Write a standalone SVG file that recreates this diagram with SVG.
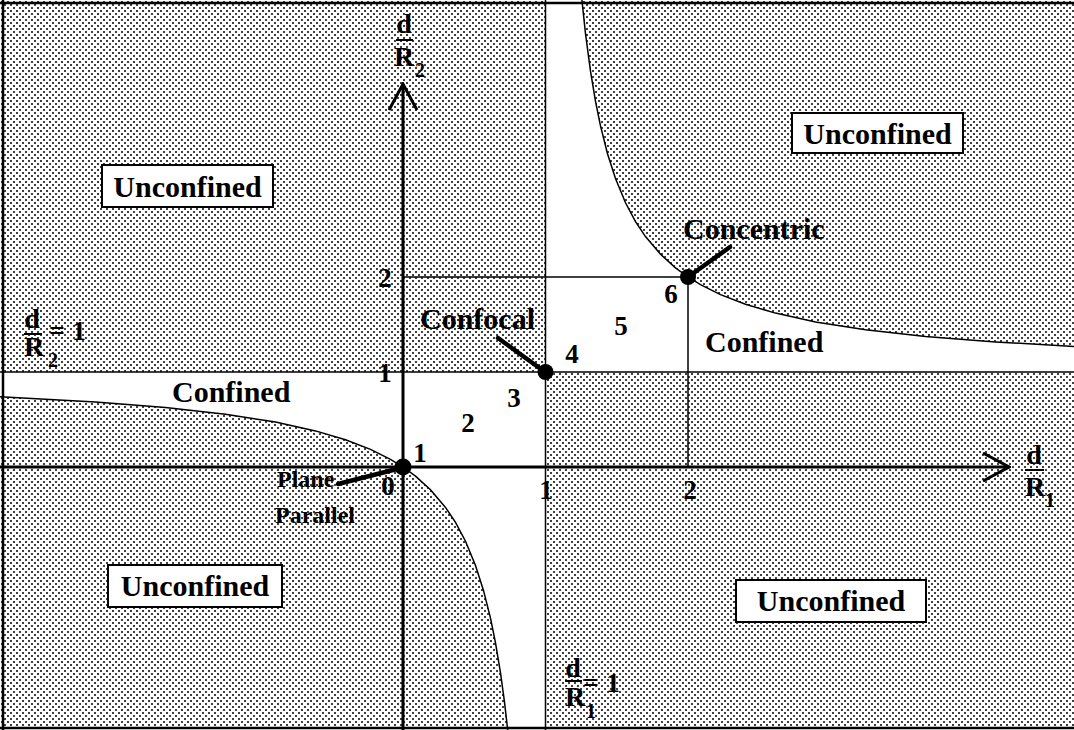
<svg xmlns="http://www.w3.org/2000/svg" width="1074" height="730" viewBox="0 0 1074 730">
<defs>
<pattern id="dots" width="6" height="6" patternUnits="userSpaceOnUse">
<rect width="6" height="6" fill="#fff"/>
<circle cx="2" cy="2" r="1" fill="#000"/>
<circle cx="5" cy="5" r="1" fill="#000"/>
</pattern>
<marker id="openArrow" viewBox="0 0 30 30" refX="28" refY="15" markerWidth="30" markerHeight="30" markerUnits="userSpaceOnUse" orient="auto">
<path d="M2,1 L28,15 L2,29" fill="none" stroke="#000" stroke-width="3"/>
</marker>
<style>
text{font-family:"Liberation Serif","Times New Roman",serif;font-weight:bold;fill:#000}
.lbl{font-size:30px}
.small{font-size:24px}
.num{font-size:27px}
.frac{font-size:28px}
.sub{font-size:20px}
.box{fill:#fff;stroke:#000;stroke-width:2}
.thin{stroke:#000;stroke-width:1.5;fill:none}
.axis{stroke:#000;stroke-width:3;fill:none}
.lead{stroke:#000;stroke-width:4.5;fill:none;stroke-linecap:round}
</style>
</defs>
<g id="background">
<rect x="0" y="0" width="1074" height="730" fill="url(#dots)"/>
<path id="confined-lower" fill="#fff" d="M0,372 L545.5,372 L545.5,730 L507.7,730 L504.5,702.2 L500.5,672.8 L495.5,642.8 L490.5,618.1 L483.5,590.4 L475.5,565.4 L465.5,541.2 L455.5,522.4 L445.5,507.4 L430.5,489.7 L415.5,476.1 L403,467 L390.5,459.3 L370.5,449.4 L345.5,439.7 L315.5,430.9 L275.5,422.1 L225.5,414.3 L165.5,407.6 L95.5,402.1 L0,396.8 Z"/>
<path id="confined-upper" fill="#fff" d="M545.5,0 L581.9,0 L585.5,33.6 L590.5,71.2 L595.5,101.3 L600.5,125.9 L607.5,153.7 L615.5,178.6 L625.5,202.8 L635.5,221.6 L645.5,236.6 L660.5,254.3 L675.5,267.9 L688,277 L700.5,284.7 L720.5,294.6 L745.5,304.3 L775.5,313.1 L815.5,321.9 L865.5,329.7 L925.5,336.4 L995.5,341.9 L1074,346.4 L1074,372 L545.5,372 Z"/>
</g>
<g id="connectors">
<polyline class="thin" points="0,396.8 95.5,402.1 165.5,407.6 225.5,414.3 275.5,422.1 315.5,430.9 345.5,439.7 370.5,449.4 390.5,459.3 403,467 415.5,476.1 430.5,489.7 445.5,507.4 455.5,522.4 465.5,541.2 475.5,565.4 483.5,590.4 490.5,618.1 495.5,642.8 500.5,672.8 504.5,702.2 507.7,730"/>
<polyline class="thin" points="581.9,0 585.5,33.6 590.5,71.2 595.5,101.3 600.5,125.9 607.5,153.7 615.5,178.6 625.5,202.8 635.5,221.6 645.5,236.6 660.5,254.3 675.5,267.9 688,277 700.5,284.7 720.5,294.6 745.5,304.3 775.5,313.1 815.5,321.9 865.5,329.7 925.5,336.4 995.5,341.9 1074,346.4"/>
<line class="thin" x1="545.5" y1="0" x2="545.5" y2="730" stroke-width="2"/>
<line class="thin" x1="0" y1="372" x2="1074" y2="372" stroke-width="2"/>
<line class="thin" x1="403" y1="277" x2="688" y2="277" stroke-width="1.2"/>
<line class="thin" x1="688" y1="277" x2="688" y2="467" stroke-width="1.2"/>
<line class="axis" x1="403" y1="730" x2="403" y2="84" marker-end="url(#openArrow)"/>
<line class="axis" x1="0" y1="467" x2="1009" y2="467" marker-end="url(#openArrow)"/>
<line class="lead" x1="338" y1="484" x2="401" y2="468"/>
<line class="lead" x1="498" y1="338" x2="545" y2="372"/>
<line class="lead" x1="730" y1="247" x2="688" y2="277"/>
</g>
<g id="frame">
<line x1="0" y1="3" x2="1074" y2="3" stroke="#000" stroke-width="2.5"/>
<line x1="3" y1="0" x2="3" y2="730" stroke="#000" stroke-width="2.5"/>
<line x1="0" y1="728" x2="1074" y2="728" stroke="#000" stroke-width="2.5"/>
</g>
<g id="node-origin"><circle cx="403" cy="467" r="8.5" fill="#000"/></g>
<g id="node-confocal-point"><circle cx="545.5" cy="372" r="8" fill="#000"/></g>
<g id="node-concentric-point"><circle cx="688" cy="277" r="8" fill="#000"/></g>
<g id="node-unconfined-tl"><rect class="box" x="102" y="165" width="171" height="42"/><text class="lbl" x="187.5" y="197" text-anchor="middle">Unconfined</text></g>
<g id="node-unconfined-tr"><rect class="box" x="792" y="113" width="171" height="40"/><text class="lbl" x="877.5" y="144" text-anchor="middle">Unconfined</text></g>
<g id="node-unconfined-bl"><rect class="box" x="108" y="565" width="174" height="42"/><text class="lbl" x="195" y="596" text-anchor="middle">Unconfined</text></g>
<g id="node-unconfined-br"><rect class="box" x="736" y="580" width="190" height="42"/><text class="lbl" x="831" y="611" text-anchor="middle">Unconfined</text></g>
<g id="node-confined-left"><text class="lbl" x="172" y="402">Confined</text></g>
<g id="node-confined-right"><text class="lbl" x="705" y="352">Confined</text></g>
<g id="node-confocal"><text class="lbl" x="420" y="329">Confocal</text></g>
<g id="node-concentric"><text class="lbl" x="683" y="239">Concentric</text></g>
<g id="node-plane-parallel"><text class="small" x="277" y="487">Plane</text><text class="small" x="275" y="523">Parallel</text></g>
<g id="node-numbers">
<text class="num" x="420" y="462" text-anchor="middle">1</text>
<text class="num" x="468" y="432" text-anchor="middle">2</text>
<text class="num" x="514" y="407" text-anchor="middle">3</text>
<text class="num" x="572" y="363" text-anchor="middle">4</text>
<text class="num" x="621" y="335" text-anchor="middle">5</text>
<text class="num" x="671" y="303" text-anchor="middle">6</text>
</g>
<g id="node-ticks">
<text class="num" x="385" y="382" text-anchor="middle">1</text>
<text class="num" x="385" y="287" text-anchor="middle">2</text>
<text class="num" x="388" y="495" text-anchor="middle">0</text>
<text class="num" x="546" y="499" text-anchor="middle">1</text>
<text class="num" x="690" y="499" text-anchor="middle">2</text>
</g>
<g id="node-axis-y-label">
<text class="frac" x="404" y="33" text-anchor="middle">d</text>
<line x1="396" y1="40" x2="413" y2="40" stroke="#000" stroke-width="2"/>
<text class="frac" x="404" y="66" text-anchor="middle">R</text>
<text class="sub" x="420" y="77" text-anchor="middle">2</text>
</g>
<g id="node-axis-x-label">
<text class="frac" x="1034" y="464" text-anchor="middle">d</text>
<line x1="1025" y1="470" x2="1044" y2="470" stroke="#000" stroke-width="2"/>
<text class="frac" x="1035" y="496" text-anchor="middle">R</text>
<text class="sub" x="1050" y="507" text-anchor="middle">1</text>
</g>
<g id="node-line-y1-label">
<text class="frac" x="32" y="328" text-anchor="middle">d</text>
<line x1="24" y1="334" x2="42" y2="334" stroke="#000" stroke-width="2"/>
<text class="frac" x="34" y="356" text-anchor="middle">R</text>
<text class="sub" x="53" y="367" text-anchor="middle">2</text>
<text class="frac" x="49" y="340">= 1</text>
</g>
<g id="node-line-x1-label">
<text class="frac" x="573" y="677" text-anchor="middle">d</text>
<line x1="565" y1="681" x2="582" y2="681" stroke="#000" stroke-width="2"/>
<text class="frac" x="575" y="706" text-anchor="middle">R</text>
<text class="sub" x="591" y="718" text-anchor="middle">1</text>
<text class="frac" x="583" y="692">= 1</text>
</g>
</svg>
